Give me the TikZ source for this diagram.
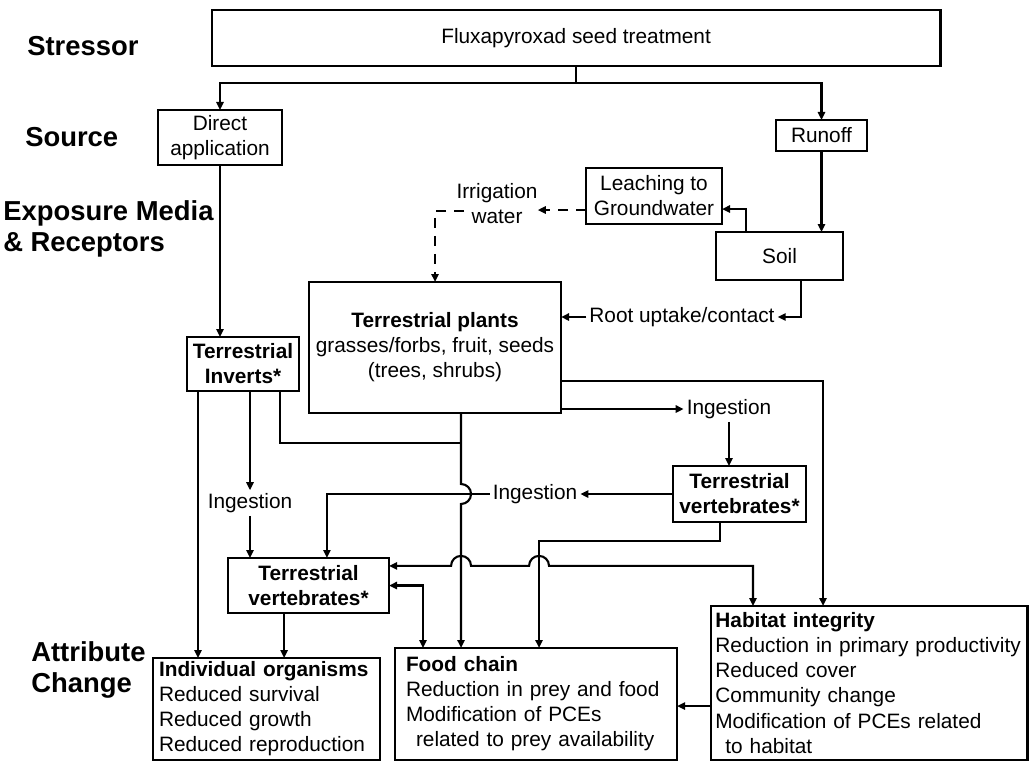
\documentclass[tikz,border=0pt]{standalone}
\usepackage{fontspec}
\setmainfont{Liberation Sans}
\usepackage{tikz}
\usetikzlibrary{arrows.meta}
\tikzset{
  >={Triangle[length=2mm,width=1.8mm]},
  stagelbl/.style={anchor=west, align=left, inner sep=0pt,
      font=\fontsize{19.5}{22.5}\selectfont\bfseries},
  flowbox/.style={draw, line width=2pt, anchor=north west, align=center,
      inner sep=0pt, outer sep=0pt, font=\fontsize{14.8}{17.8}\selectfont},
  boldbox/.style={flowbox, font=\fontsize{14.8}{17.8}\selectfont\bfseries},
  effectbox/.style={flowbox, align=left, text width=#1, inner xsep=0.15cm},
  pathlbl/.style={inner sep=2pt, align=center, font=\fontsize{14.8}{17.8}\selectfont},
  myarrow/.style={->, line width=1.5pt},
  myarrow2/.style={<->, line width=1.5pt},
  dasharrow/.style={myarrow, dash pattern=on 0.25cm off 0.2cm},
  myline/.style={line width=1.5pt},
}

\begin{document}
\begin{tikzpicture}[x=0.025cm, y=-0.025cm]
  \useasboundingbox (0,0) rectangle (1031,763);
  % row headings
  \node[stagelbl] (stressor) at (27,46) {Stressor};
  \node[stagelbl] (source) at (25,137) {Source};
  \node[stagelbl] (exposure) at (3,229) {Exposure Media\\\& Receptors};
  \node[stagelbl] (attribute) at (31,670) {Attribute\\Change};

  % boxes
  \node[flowbox, minimum width=18.2cm, minimum height=1.4cm] (stress) at (212,10) {Fluxapyroxad seed treatment};
  \node[flowbox, minimum width=3.1cm, minimum height=1.375cm] (direct) at (158,110) {Direct\\application};
  \node[flowbox, minimum width=2.275cm, minimum height=0.775cm] (runoff) at (776,120) {Runoff};
  \node[flowbox, minimum width=3.4cm, minimum height=1.4cm] (leach) at (586,168) {Leaching to\\Groundwater};
  \node[flowbox, minimum width=3.175cm, minimum height=1.2cm] (soil) at (716,232) {Soil};
  \node[flowbox, minimum width=6.3cm, minimum height=3.275cm] (plants) at (309,282)
      {\textbf{Terrestrial plants}\\grasses/forbs, fruit, seeds\\(trees, shrubs)};
  \node[boldbox, minimum width=2.8cm, minimum height=1.35cm] (inverts) at (187,337) {Terrestrial\\Inverts*};
  \node[boldbox, minimum width=3.325cm, minimum height=1.4cm] (vertU) at (673,466) {Terrestrial\\vertebrates*};
  \node[boldbox, minimum width=4.025cm, minimum height=1.375cm] (vertL) at (228,558) {Terrestrial\\vertebrates*};
  \node[effectbox=5.375cm, minimum height=2.55cm] (indiv) at (153,658)
      {\textbf{Individual organisms}\\Reduced survival\\Reduced growth\\Reduced reproduction};
  \node[effectbox=6.5cm, inner xsep=0.275cm, minimum height=2.8cm] (food) at (395,648)
      {\textbf{Food chain}\\Reduction in prey and food\\Modification of PCEs\\\hspace*{0.25cm}related to prey availability};
  \node[effectbox=7.7cm, inner xsep=0.11cm, minimum height=3.85cm] (habitat) at (711,606)
      {\textbf{Habitat integrity}\\Reduction in primary productivity\\Reduced cover\\Community change\\Modification of PCEs related\\\hspace*{0.25cm}to habitat};

  % route labels
  \node[pathlbl, inner sep=0pt] (irrig) at (497,204) {Irrigation\\water};
  \node[pathlbl] (root) at (682,317) {Root uptake/contact};
  \node[pathlbl] (ingR) at (729,409) {Ingestion};
  \node[pathlbl] (ingM) at (535,494) {Ingestion};
  \node[pathlbl] (ingL) at (250,503) {Ingestion};

  % stressor to sources
  \draw[myline] (stress.south) -- ++(0,17) coordinate (split);
  \draw[myarrow] (split) -| (direct.north);
  \draw[myarrow] (split) -| (runoff.north);
  \draw[myarrow] (direct.south) -- (direct.south |- inverts.north);
  \draw[myarrow] (runoff.south) -- (runoff.south |- soil.north);

  % soil and water
  \draw[myarrow] ([xshift=0.75cm]soil.north west) |- ([yshift=-0.325cm]leach.east);
  \draw[dasharrow] ([yshift=-0.35cm]leach.west) -- ([yshift=-0.35cm]leach.west -| irrig.east);
  \draw[dasharrow] ([xshift=0.2cm,yshift=-0.175cm]irrig.west) -| (plants.north);
  \draw[myarrow] ([xshift=0.54cm]soil.south) |- (root.east);
  \draw[myarrow] (root.west) -- (root.west -| plants.east);

  % plants
  \coordinate (stem) at ([xshift=0.65cm]plants.south);
  \coordinate (drop) at ([xshift=3.6cm]food.north west);
  \draw[myarrow] (ingR.west -| plants.east) -- (ingR.west);
  \draw[myarrow] (ingR.south) -- (ingR.south |- vertU.north);
  \draw[myarrow] ([yshift=-0.84cm]plants.east) -| ([xshift=2.8cm]habitat.north west);
  \draw[myarrow] (stem) -- ([yshift=0.25cm]stem |- ingM.west)
      arc[start angle=90, end angle=-90, radius=0.25cm] -- (stem |- food.north);

  % vertebrates
  \draw[myarrow] (vertU.west) -- (vertU.west -| ingM.east);
  \draw[myarrow] (ingM.west) -| ([xshift=0.46cm]vertL.north);
  \draw[myarrow] ([xshift=-0.49cm]vertU.south) -- ++(0,19) -| (drop);
  \coordinate (hy) at ([yshift=0.49cm]vertL.east);
  \draw[myarrow2] (hy) -- ([xshift=-0.25cm]stem |- hy)
      arc[start angle=180, end angle=0, radius=0.25cm] -- ([xshift=-0.25cm]drop |- hy)
      arc[start angle=180, end angle=0, radius=0.25cm] -| ([xshift=1.05cm]habitat.north west);
  \draw[myarrow2] (vertL.east) -| ([xshift=0.7cm]food.north west);
  \draw[myarrow] ([xshift=-0.61cm]vertL.south) -- ([xshift=-0.61cm]vertL.south |- indiv.north);

  % inverts
  \draw[myarrow] ([xshift=0.275cm]inverts.south west) -- ([xshift=0.275cm]inverts.south west |- indiv.north);
  \draw[myarrow] (inverts.south -| ingL) -- (ingL.north);
  \draw[myarrow] (ingL.south) -- (ingL.south |- vertL.north);
  \draw[myline] ([xshift=-0.475cm]inverts.south east) |- (stem |- 0,443);

  % habitat
  \draw[myarrow] ([yshift=-0.575cm]habitat.west) -- ([yshift=-0.575cm]habitat.west -| food.east);
\end{tikzpicture}
\end{document}
